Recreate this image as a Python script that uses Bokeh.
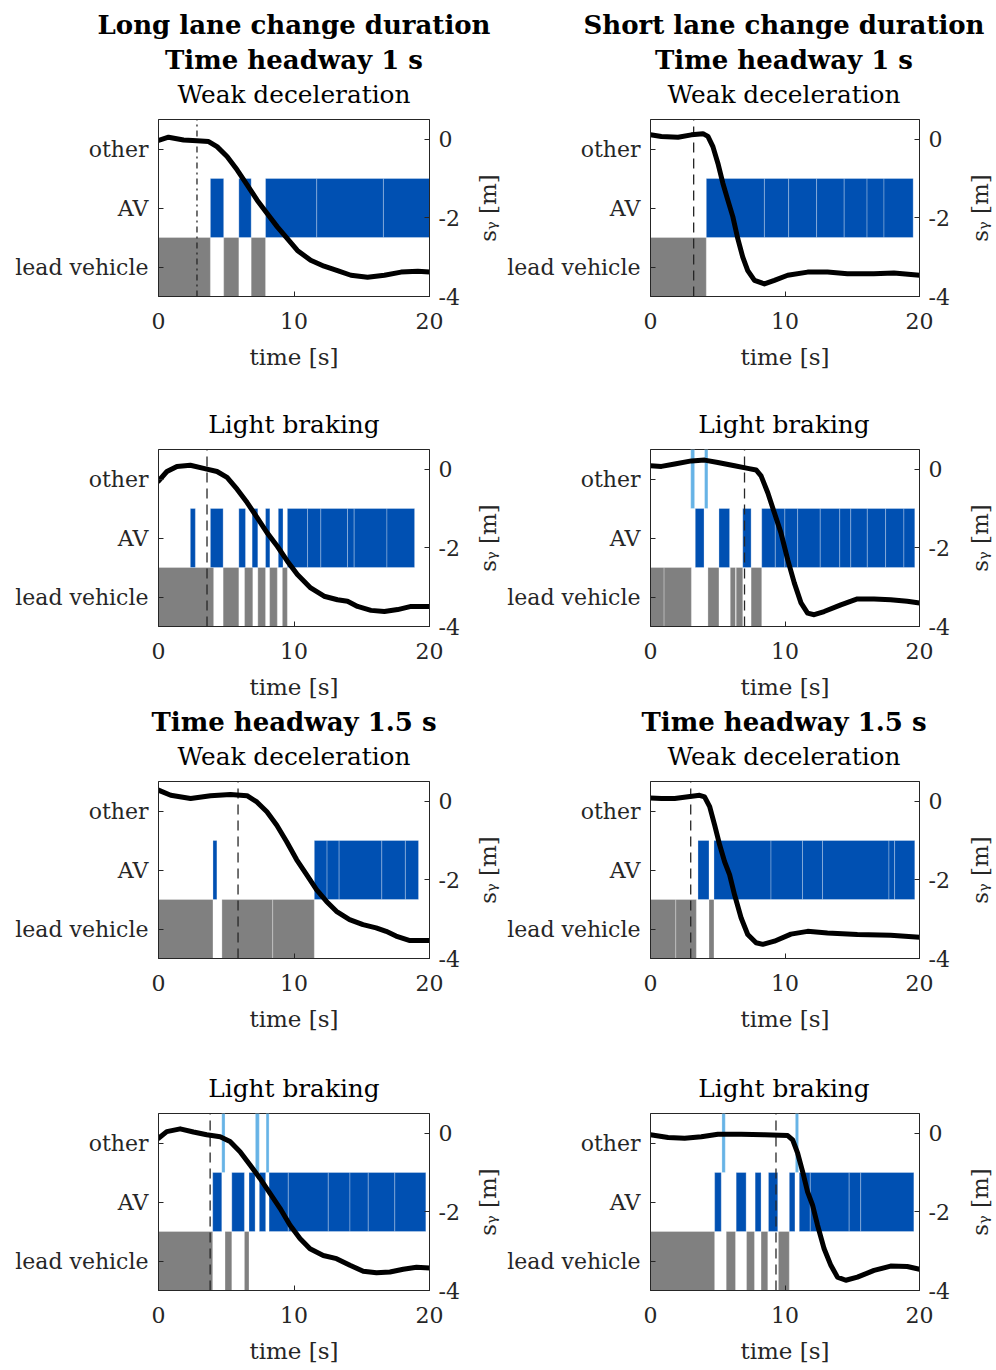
from bokeh.plotting import figure
from bokeh.models import Range1d, LinearAxis, FixedTicker, Label
from bokeh.layouts import column, row
from bokeh.embed import file_html
from bokeh.resources import INLINE

# ---------------- data ----------------
categories = ["lead vehicle", "AV", "other"]
x_ticks = [0, 10, 20]
sy_ticks = [-4, -2, 0]
sy_tick_labels = ["-4", "-2", "0"]
sy_top = 0.5
x_label = "time [s]"
sy_label = "sᵧ [m]"

# Panel 1: long lane change, headway 1 s, weak deceleration
p1_titles = [("Long lane change duration", True), ("Time headway 1 s", True), ("Weak deceleration", False)]
p1_event = 2.84
p1_lead = [[0, 3.83], [4.81, 5.93], [6.84, 7.90]]
p1_av = [[3.83, 4.81], [5.93, 6.84], [7.90, 11.68], [11.68, 16.6], [16.6, 20]]
p1_other = []
p1_t = [0, 0.74, 1.85, 2.84, 3.70, 4.32, 5.06, 5.80, 6.54, 7.28, 8.02, 8.77, 9.51, 10.25, 11.23, 12.22, 13.21, 14.20, 15.43, 16.67, 17.90, 19.14, 20]
p1_s = [-0.03, 0.05, -0.02, -0.04, -0.06, -0.19, -0.44, -0.78, -1.16, -1.55, -1.89, -2.23, -2.53, -2.83, -3.08, -3.23, -3.34, -3.46, -3.51, -3.46, -3.38, -3.36, -3.38]

# Panel 2: short lane change, headway 1 s, weak deceleration
p2_titles = [("Short lane change duration", True), ("Time headway 1 s", True), ("Weak deceleration", False)]
p2_event = 3.21
p2_lead = [[0, 4.15]]
p2_av = [[4.15, 8.47], [8.47, 10.27], [10.27, 12.35], [12.35, 14.4], [14.4, 16.1], [16.1, 17.36], [17.36, 19.53]]
p2_other = []
p2_t = [0, 0.81, 2.05, 3.04, 3.90, 4.27, 4.64, 5.01, 5.38, 5.75, 6.12, 6.49, 6.86, 7.23, 7.73, 8.47, 9.21, 10.2, 11.68, 13.16, 14.64, 16.6, 18.1, 20]
p2_s = [0.11, 0.07, 0.05, 0.11, 0.14, 0.07, -0.19, -0.61, -1.12, -1.55, -1.97, -2.53, -3.0, -3.34, -3.59, -3.68, -3.59, -3.46, -3.38, -3.38, -3.42, -3.42, -3.40, -3.46]

# Panel 3: long lane change, headway 1 s, light braking
p3_titles = [("Light braking", False)]
p3_event = 3.58
p3_lead = [[0, 4.07], [4.77, 5.93], [6.35, 6.96], [7.33, 7.90], [8.2, 8.77], [9.14, 9.51]]
p3_av = [[2.35, 2.72], [3.83, 4.77], [5.93, 6.42], [6.91, 7.33], [7.90, 8.22], [8.84, 9.19], [9.51, 11.0], [11.0, 11.98], [11.98, 13.95], [13.95, 14.44], [14.44, 16.86], [16.86, 18.9]]
p3_other = []
p3_t = [0, 0.62, 1.36, 2.35, 3.33, 4.32, 5.06, 5.80, 6.54, 7.28, 8.02, 8.77, 9.51, 10.25, 11.23, 12.22, 13.21, 13.95, 14.69, 15.68, 16.67, 17.65, 18.64, 20]
p3_s = [-0.30, -0.06, 0.07, 0.10, 0.02, -0.06, -0.21, -0.51, -0.85, -1.23, -1.62, -1.96, -2.34, -2.68, -3.02, -3.23, -3.32, -3.36, -3.49, -3.59, -3.62, -3.57, -3.49, -3.49]

# Panel 4: short lane change, headway 1 s, light braking
p4_titles = [("Light braking", False)]
p4_event = 6.99
p4_lead = [[0, 1.01], [1.01, 3.04], [4.27, 5.09], [5.93, 6.32], [6.37, 6.86], [7.48, 8.27]]
p4_av = [[3.33, 3.98], [5.09, 5.88], [6.86, 7.48], [8.27, 9.28], [9.28, 9.99], [9.99, 10.94], [10.94, 12.62], [12.62, 14.07], [14.07, 14.89], [14.89, 16.12], [16.12, 17.48], [17.48, 18.84], [18.84, 19.65]]
p4_other = [[2.99, 3.28], [4.02, 4.27]]
p4_t = [0, 0.81, 1.80, 3.04, 4.02, 5.01, 6.25, 7.23, 7.85, 8.22, 8.72, 9.21, 9.70, 10.2, 10.69, 11.19, 11.68, 12.17, 12.91, 14.15, 15.38, 16.62, 17.85, 19.09, 20]
p4_s = [0.085, 0.07, 0.13, 0.21, 0.23, 0.17, 0.085, 0.02, -0.02, -0.17, -0.60, -1.11, -1.62, -2.30, -2.89, -3.40, -3.66, -3.70, -3.62, -3.45, -3.30, -3.30, -3.32, -3.36, -3.40]

# Panel 5: long lane change, headway 1.5 s, weak deceleration
p5_titles = [("Time headway 1.5 s", True), ("Weak deceleration", False)]
p5_event = 5.87
p5_lead = [[0, 4.02], [4.68, 8.43], [8.43, 11.5]]
p5_av = [[4.02, 4.31], [11.5, 12.44], [12.44, 13.33], [13.33, 16.48], [16.48, 18.22], [18.22, 19.19]]
p5_other = []
p5_t = [0, 0.90, 2.37, 3.84, 5.31, 6.53, 7.26, 8.0, 8.73, 9.46, 10.2, 10.93, 11.66, 12.4, 13.13, 14.1, 15.09, 16.06, 16.8, 17.53, 18.5, 20]
p5_s = [0.28, 0.15, 0.07, 0.14, 0.17, 0.14, -0.02, -0.27, -0.61, -1.03, -1.49, -1.87, -2.25, -2.55, -2.80, -3.01, -3.14, -3.22, -3.31, -3.43, -3.54, -3.54]

# Panel 6: short lane change, headway 1.5 s, weak deceleration
p6_titles = [("Time headway 1.5 s", True), ("Weak deceleration", False)]
p6_event = 2.99
p6_lead = [[0, 1.88], [1.88, 3.41], [4.35, 4.72]]
p6_av = [[3.53, 4.35], [4.72, 8.96], [8.96, 11.3], [11.3, 12.79], [12.79, 17.73], [17.73, 18.15], [18.15, 19.65]]
p6_other = []
p6_t = [0, 0.81, 1.80, 2.79, 3.65, 4.02, 4.40, 4.77, 5.14, 5.51, 5.88, 6.25, 6.74, 7.23, 7.85, 8.35, 9.21, 10.44, 11.68, 13.16, 15.38, 17.85, 20]
p6_s = [0.08, 0.07, 0.07, 0.11, 0.15, 0.11, -0.14, -0.61, -1.11, -1.54, -1.87, -2.38, -2.97, -3.39, -3.60, -3.64, -3.56, -3.38, -3.31, -3.35, -3.39, -3.41, -3.46]

# Panel 7: long lane change, headway 1.5 s, light braking
p7_titles = [("Light braking", False)]
p7_event = 3.81
p7_lead = [[0, 4.0], [4.91, 5.41], [6.34, 6.68]]
p7_av = [[4.0, 4.67], [5.41, 6.34], [6.68, 7.13], [7.44, 7.91], [8.16, 9.58], [9.58, 12.53], [12.53, 14.13], [14.13, 15.48], [15.48, 17.44], [17.44, 19.73]]
p7_other = [[4.67, 4.91], [7.15, 7.44], [7.94, 8.16]]
p7_t = [0, 0.61, 1.60, 2.58, 3.56, 4.55, 5.28, 6.02, 6.76, 7.49, 8.23, 8.97, 9.71, 10.44, 11.18, 12.16, 13.14, 14.13, 15.11, 16.09, 17.08, 18.06, 19.04, 20]
p7_s = [-0.13, 0.04, 0.11, 0.03, -0.04, -0.09, -0.21, -0.47, -0.81, -1.15, -1.53, -1.91, -2.34, -2.68, -2.94, -3.11, -3.19, -3.36, -3.51, -3.55, -3.53, -3.46, -3.41, -3.43]

# Panel 8: short lane change, headway 1.5 s, light braking
p8_titles = [("Light braking", False)]
p8_event = 9.33
p8_lead = [[0, 4.77], [5.63, 6.32], [7.14, 7.73], [8.22, 8.72], [9.51, 10.32]]
p8_av = [[4.77, 5.26], [6.37, 7.11], [7.78, 8.22], [8.77, 9.46], [10.32, 10.74], [11.06, 11.88], [11.88, 14.77], [14.77, 15.63], [15.63, 19.58]]
p8_other = [[5.31, 5.56], [10.77, 11.01]]
p8_t = [0, 1.31, 2.54, 3.78, 5.01, 6.74, 8.47, 10.2, 10.57, 10.94, 11.31, 11.68, 12.05, 12.42, 12.91, 13.41, 13.9, 14.52, 15.38, 16.62, 17.85, 19.09, 20]
p8_s = [-0.04, -0.11, -0.13, -0.09, -0.03, -0.03, -0.04, -0.06, -0.17, -0.51, -0.98, -1.49, -1.83, -2.34, -2.94, -3.36, -3.66, -3.74, -3.66, -3.49, -3.38, -3.39, -3.46]

# ---------------- style ----------------
FONT = "DejaVu Serif"
TICK_FS = "22px"
LABEL_FS = "23px"
TITLE_FS = "24.8px"
BOLD_FS = "26px"
AX_COLOR = "#262626"
GRAY = "#808080"
BLUE = "#0050B2"
LIGHT = "#66B3E6"
FRAME_W = 271
FRAME_H = 177
PANEL_TOP = 4          # gap between a title strip and the frame below it
TITLE_FIRST = 25       # px from frame top to the centre of the lowest title line
TITLE_STEP = 35        # px between title lines
PAGE_W = 994
STRIP_FRAME = 4        # tiny frame width of the s_y label strip


def blank_figure(width, height):
    q = figure(width=width, height=height, x_range=Range1d(0, width), y_range=Range1d(0, height),
               x_axis_type=None, y_axis_type=None, toolbar_location=None,
               output_backend="svg", min_border=0)
    q.outline_line_color = None
    q.background_fill_color = "white"
    q.border_fill_color = "white"
    return q


def make_header(title_sets, centres, height):
    # full-width strip above a row of panels, with each panel's title lines centred over its frame
    q = blank_figure(PAGE_W, height)
    for titles, xc in zip(title_sets, centres):
        for i, (text, bold) in enumerate(reversed(titles)):
            q.add_layout(Label(x=xc, y=TITLE_FIRST + TITLE_STEP * i - PANEL_TOP,
                               text=text, text_align="center", text_baseline="middle",
                               text_font=FONT, text_font_size=BOLD_FS if bold else TITLE_FS,
                               text_font_style="bold" if bold else "normal", text_color="black"))
    return q


def make_sy_label(width, height, bottom):
    # narrow strip right of a panel; its frame is aligned with the panel frame and its
    # (otherwise invisible) left axis carries the s_y title, reading bottom-to-top
    q = figure(width=width, height=height, x_range=Range1d(0, 1), y_range=Range1d(0, 1),
               x_axis_type=None, y_axis_type=None, toolbar_location=None,
               output_backend="svg", min_border_left=width - STRIP_FRAME, min_border_right=0,
               min_border_top=PANEL_TOP, min_border_bottom=bottom)
    q.outline_line_color = None
    q.background_fill_color = "white"
    q.border_fill_color = "white"
    ax = LinearAxis(ticker=FixedTicker(ticks=[]), axis_label=sy_label)
    ax.axis_line_color = None
    ax.major_tick_line_color = None
    ax.minor_tick_line_color = None
    ax.major_tick_in = 0
    ax.major_tick_out = 0
    ax.minor_tick_in = 0
    ax.minor_tick_out = 0
    ax.major_label_standoff = 0
    ax.axis_label_standoff = 0
    ax.axis_label_text_font = FONT
    ax.axis_label_text_font_size = LABEL_FS
    ax.axis_label_text_font_style = "normal"
    ax.axis_label_text_color = AX_COLOR
    q.add_layout(ax, "left")
    return q


def make_panel(event, dash, lead, av, other, t, s, width, left, right, height, bottom):
    p = figure(width=width, height=height, x_range=Range1d(x_ticks[0], x_ticks[-1]),
               y_range=Range1d(0.5, len(categories) + 0.5),
               x_axis_type=None, y_axis_type=None, toolbar_location=None,
               output_backend="svg", min_border_left=left, min_border_right=right,
               min_border_top=PANEL_TOP, min_border_bottom=bottom)
    p.extra_y_ranges = {"sy": Range1d(sy_ticks[0], sy_top)}
    p.outline_line_color = AX_COLOR
    p.outline_line_width = 1
    p.background_fill_color = "white"
    p.border_fill_color = "white"

    for name, segs, color in (("lead vehicle", lead, GRAY), ("AV", av, BLUE), ("other", other, LIGHT)):
        if not segs:
            continue
        k = categories.index(name) + 1
        p.quad(left=[a for a, b in segs], right=[b for a, b in segs],
               bottom=k - 0.5, top=k + 0.5, fill_color=color,
               line_color="white", line_alpha=0.35, line_width=0.8)

    p.segment(x0=[event], x1=[event], y0=[0.5], y1=[len(categories) + 0.5],
              line_color=AX_COLOR, line_width=1.3, line_dash=dash)
    p.line(t, s, y_range_name="sy", line_color="black", line_width=5,
           line_join="round", line_cap="round")

    def style(ax):
        ax.axis_line_color = AX_COLOR
        ax.major_tick_line_color = AX_COLOR
        ax.major_tick_in = 5
        ax.major_tick_out = 0
        ax.minor_tick_in = 0
        ax.minor_tick_out = 0
        ax.major_label_text_font = FONT
        ax.major_label_text_font_size = TICK_FS
        ax.major_label_text_color = AX_COLOR
        ax.axis_label_text_font = FONT
        ax.axis_label_text_font_size = LABEL_FS
        ax.axis_label_text_font_style = "normal"
        ax.axis_label_text_color = AX_COLOR

    xb = LinearAxis(ticker=FixedTicker(ticks=x_ticks), axis_label=x_label)
    style(xb)
    xb.major_label_standoff = 16
    xb.axis_label_standoff = 12
    p.add_layout(xb, "below")

    yl = LinearAxis(ticker=FixedTicker(ticks=list(range(1, len(categories) + 1))))
    style(yl)
    yl.major_label_overrides = {i + 1: c for i, c in enumerate(categories)}
    yl.major_label_standoff = 10
    p.add_layout(yl, "left")

    yr = LinearAxis(y_range_name="sy", ticker=FixedTicker(ticks=sy_ticks))
    style(yr)
    yr.major_label_overrides = dict(zip(sy_ticks, sy_tick_labels))
    yr.major_label_standoff = 9
    p.add_layout(yr, "right")
    return p


# (title strip height, bottom border) per row; (width, left, right, label strip) per column
rows_spec = [(115, 106), (43, 78), (73, 78), (73, 78)]
cols_spec = [(471, 158, 42, 33), (459, 144, 44, 31)]
panels = [
    (p1_titles, p1_event, "dashdot", p1_lead, p1_av, p1_other, p1_t, p1_s),
    (p2_titles, p2_event, "10 6", p2_lead, p2_av, p2_other, p2_t, p2_s),
    (p3_titles, p3_event, "10 6", p3_lead, p3_av, p3_other, p3_t, p3_s),
    (p4_titles, p4_event, "10 6", p4_lead, p4_av, p4_other, p4_t, p4_s),
    (p5_titles, p5_event, "10 6", p5_lead, p5_av, p5_other, p5_t, p5_s),
    (p6_titles, p6_event, "10 6", p6_lead, p6_av, p6_other, p6_t, p6_s),
    (p7_titles, p7_event, "10 6", p7_lead, p7_av, p7_other, p7_t, p7_s),
    (p8_titles, p8_event, "10 6", p8_lead, p8_av, p8_other, p8_t, p8_s),
]

# horizontal centre of each column's frame on the page
centres = []
x0 = 0
for w, left, right, strip in cols_spec:
    centres.append(x0 + left + FRAME_W / 2)
    x0 += w + strip

children = []
for r, (head_h, bottom) in enumerate(rows_spec):
    panel_h = PANEL_TOP + FRAME_H + bottom
    title_sets = [panels[2 * r + c][0] for c in range(2)]
    children.append(make_header(title_sets, centres, head_h))
    figs = []
    for c in range(2):
        w, left, right, strip = cols_spec[c]
        figs.append(make_panel(*panels[2 * r + c][1:], w, left, right, panel_h, bottom))
        figs.append(make_sy_label(strip, panel_h, bottom))
    children.append(row(*figs, spacing=0))
layout = column(*children, spacing=0)

open("out.html", "w").write(file_html(layout, INLINE))
